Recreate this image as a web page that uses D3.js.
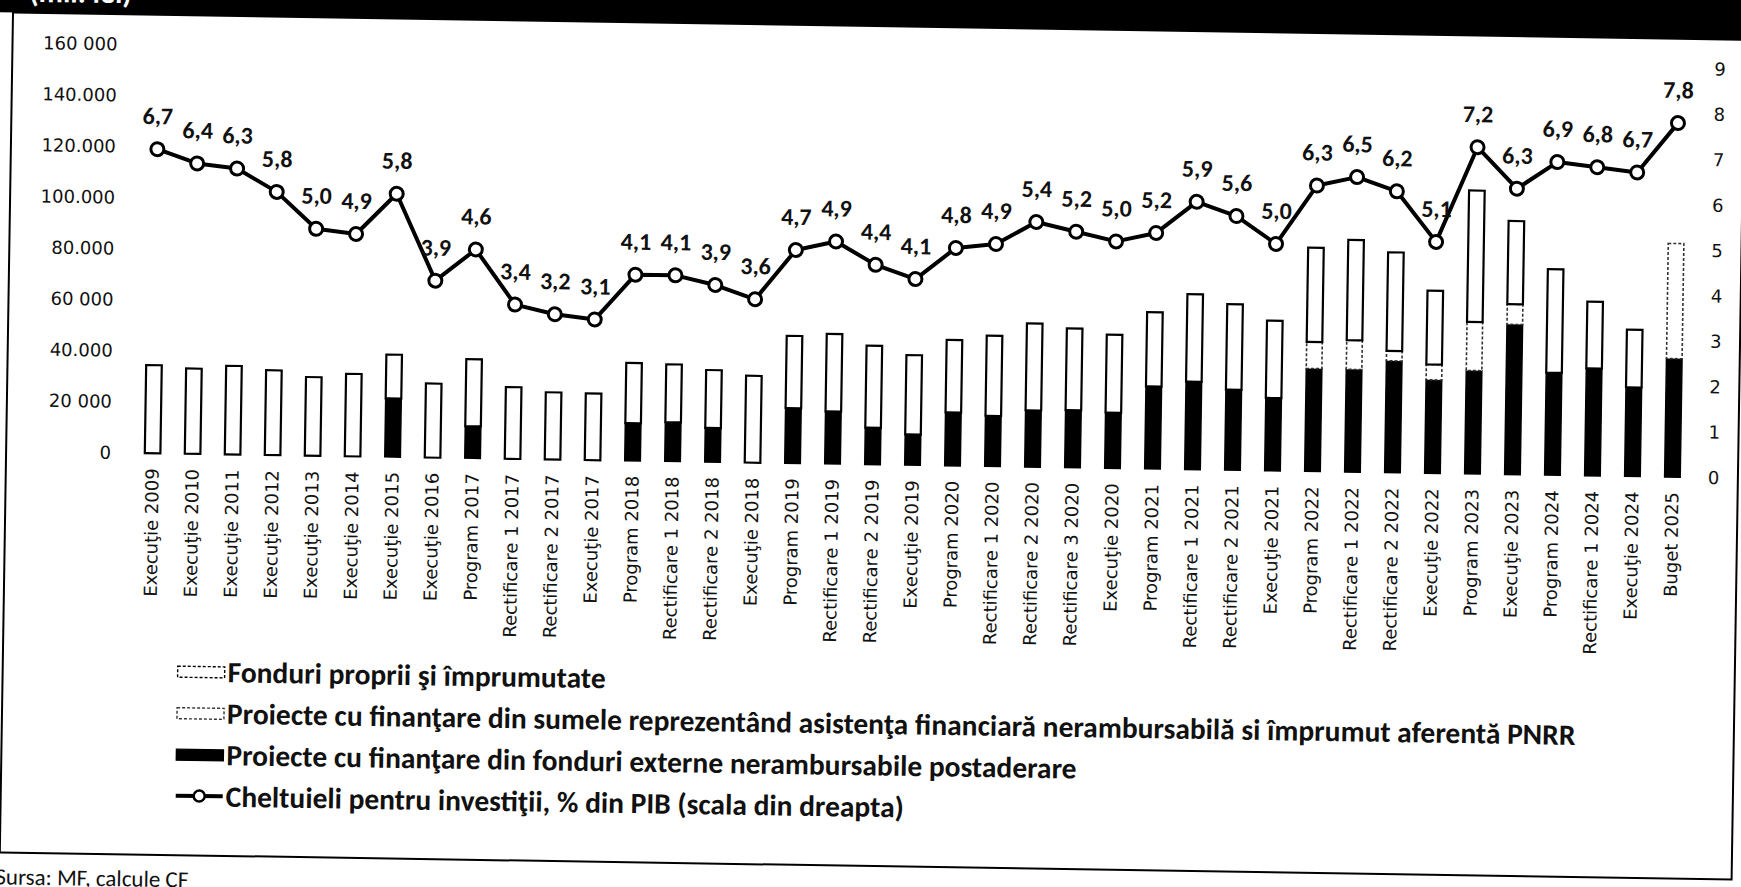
<!DOCTYPE html>
<html>
<head>
<meta charset="utf-8">
<script src="https://cdn.jsdelivr.net/npm/d3@7"></script>
<style>
  body { margin: 0; background: #fff; }
</style>
</head>
<body>
<div id="chart"></div>
<script>
// categories (budget stage + year)
var categories = [
  "Execuţie 2009", "Execuţie 2010", "Execuţie 2011", "Execuţie 2012", "Execuţie 2013",
  "Execuţie 2014", "Execuţie 2015", "Execuţie 2016",
  "Program 2017", "Rectificare 1 2017", "Rectificare 2 2017", "Execuţie 2017",
  "Program 2018", "Rectificare 1 2018", "Rectificare 2 2018", "Execuţie 2018",
  "Program 2019", "Rectificare 1 2019", "Rectificare 2 2019", "Execuţie 2019",
  "Program 2020", "Rectificare 1 2020", "Rectificare 2 2020", "Rectificare 3 2020", "Execuţie 2020",
  "Program 2021", "Rectificare 1 2021", "Rectificare 2 2021", "Execuţie 2021",
  "Program 2022", "Rectificare 1 2022", "Rectificare 2 2022", "Execuţie 2022",
  "Program 2023", "Execuţie 2023",
  "Program 2024", "Rectificare 1 2024", "Execuţie 2024",
  "Buget 2025"
];

// mil. lei
var externalFunds = [
  0, 0, 0, 0, 0, 0, 22900, 0,
  12500, 0, 0, 0,
  14700, 15300, 13300, 0,
  21600, 20500, 14400, 12000,
  20900, 19800, 22200, 22500, 21800,
  32300, 34400, 31500, 28500,
  40300, 40200, 43800, 36600,
  40500, 58800,
  40100, 42100, 34900,
  46400
];
var pnrrFunds = [
  0, 0, 0, 0, 0, 0, 0, 0,
  0, 0, 0, 0,
  0, 0, 0, 0,
  0, 0, 0, 0,
  0, 0, 0, 0, 0,
  0, 0, 0, 0,
  10400, 11400, 3900, 6000,
  19000, 7900,
  0, 0, 0,
  45100
];
var ownFunds = [
  34500, 33400, 34700, 33200, 30800, 32300, 17200, 29000,
  26300, 28100, 26300, 26100,
  23600, 22700, 22700, 34000,
  28300, 30400, 32100, 31100,
  28400, 31400, 34000, 32000, 30500,
  29100, 34300, 33500, 30300,
  36900, 39300, 38600, 28900,
  51500, 32600,
  40600, 26100, 22600,
  0
];
// % din PIB (right scale)
var investPctGdp = [
  6.7, 6.4, 6.3, 5.8, 5.0, 4.9, 5.8, 3.9,
  4.6, 3.4, 3.2, 3.1,
  4.1, 4.1, 3.9, 3.6,
  4.7, 4.9, 4.4, 4.1,
  4.8, 4.9, 5.4, 5.2, 5.0,
  5.2, 5.9, 5.6, 5.0,
  6.3, 6.5, 6.2, 5.1,
  7.2, 6.3,
  6.9, 6.8, 6.7,
  7.8
];

var leftTickValues = [0, 20000, 40000, 60000, 80000, 100000, 120000, 140000, 160000];
var leftTickLabels = ["0", "20 000", "40.000", "60 000", "80.000", "100.000", "120.000", "140.000", "160 000"];
var rightTickValues = [0, 1, 2, 3, 4, 5, 6, 7, 8, 9];

var legendLabels = [
  "Fonduri proprii şi împrumutate",
  "Proiecte cu finanţare din sumele reprezentând asistenţa financiară nerambursabilă si împrumut aferentă PNRR",
  "Proiecte cu finanţare din fonduri externe nerambursabile postaderare",
  "Cheltuieli pentru investiţii, % din PIB (scala din dreapta)"
];
var unitLabel = "(mil. lei)";
var sourceNote = "Sursa: MF, calcule CF";

// ---------------- layout ----------------
var W = 1741, H = 887;
var tilt = 0.9; // the scan is slightly rotated
var plot = {left: 132.5, right: 1692.5, top: 56, bottom: 464.5};
var axisFont = "'DejaVu Sans', Verdana, sans-serif";
var boldFont = "Carlito, 'Liberation Sans Narrow', 'Open Sans', sans-serif";

var rows = categories.map(function(c, i) {
  return {cat: c, ext: externalFunds[i], pnrr: pnrrFunds[i], own: ownFunds[i], pct: investPctGdp[i]};
});

var x = d3.scaleBand().domain(categories).range([plot.left, plot.right])
          .paddingInner(0.61).paddingOuter(0.305);
var yLeft = d3.scaleLinear().domain([0, 160000]).range([plot.bottom, plot.top]);
var yRight = d3.scaleLinear().domain([0, 9]).range([plot.bottom, plot.top]);

var svg = d3.select("#chart").append("svg").attr("width", W).attr("height", H)
            .style("display", "block").style("background", "#fff");

var g = svg.append("g").attr("transform", "rotate(" + tilt + ",870,465)");

// header band and frame
g.append("rect").attr("x", -80).attr("y", -120).attr("width", W + 160).attr("height", 146).attr("fill", "#000");
g.append("text").attr("x", 22).attr("y", 15).attr("fill", "#fff")
  .attr("font-family", boldFont).attr("font-weight", "bold").attr("font-size", 30)
  .text(unitLabel);
g.append("rect").attr("x", 6).attr("y", 26).attr("width", 1732).attr("height", 840)
  .attr("fill", "none").attr("stroke", "#000").attr("stroke-width", 2);

// stacked bars
var keys = ["ext", "pnrr", "own"];
var barStyle = {
  ext:  {fill: "#000", stroke: "#000", width: 1.5, dash: null},
  pnrr: {fill: "#fff", stroke: "#333", width: 1.6, dash: "3,2"},
  own:  {fill: "#fff", stroke: "#000", width: 2.2, dash: null}
};
var stack = d3.stack().keys(keys)(rows);

g.append("g").selectAll("g").data(stack).enter().append("g")
  .each(function(layer) {
    var st = barStyle[layer.key];
    d3.select(this).selectAll("rect").data(layer.filter(function(d) { return d[1] - d[0] > 0; }))
      .enter().append("rect")
      .attr("x", function(d) { return x(d.data.cat); })
      .attr("width", x.bandwidth())
      .attr("y", function(d) { return yLeft(d[1]); })
      .attr("height", function(d) { return yLeft(d[0]) - yLeft(d[1]); })
      .attr("fill", st.fill).attr("stroke", st.stroke)
      .attr("stroke-width", st.width)
      .attr("stroke-dasharray", st.dash);
  });

// axes
var gl = g.append("g").attr("transform", "translate(111,0)")
  .call(d3.axisLeft(yLeft).tickValues(leftTickValues)
        .tickFormat(function(d, i) { return leftTickLabels[i]; })
        .tickSize(0).tickPadding(0));
gl.select(".domain").remove();
gl.attr("font-family", axisFont).attr("font-size", 18);
gl.selectAll("text").attr("fill", "#111");

var gr = g.append("g").attr("transform", "translate(1708,0)")
  .call(d3.axisRight(yRight).tickValues(rightTickValues).tickSize(0).tickPadding(0));
gr.select(".domain").remove();
gr.attr("font-family", axisFont).attr("font-size", 18);
gr.selectAll("text").attr("fill", "#111");

var gx = g.append("g").attr("transform", "translate(0," + plot.bottom + ")")
  .call(d3.axisBottom(x).tickSize(0).tickPadding(0));
gx.select(".domain").remove();
gx.attr("font-family", axisFont).attr("font-size", 18);
gx.selectAll("text")
  .attr("transform", "rotate(-90)")
  .attr("x", -15).attr("y", 0).attr("dy", "0.35em")
  .style("text-anchor", "end").attr("fill", "#111");

// investment line (right scale)
var cx = function(d) { return x(d.cat) + x.bandwidth() / 2; };
var line = d3.line().x(cx).y(function(d) { return yRight(d.pct); });

g.append("path").datum(rows).attr("d", line)
  .attr("fill", "none").attr("stroke", "#000").attr("stroke-width", 4)
  .attr("stroke-linejoin", "round");

g.append("g").selectAll("circle").data(rows).enter().append("circle")
  .attr("cx", cx).attr("cy", function(d) { return yRight(d.pct); })
  .attr("r", 6.5).attr("fill", "#fff").attr("stroke", "#000").attr("stroke-width", 3);

var fmt = function(v) { return d3.format(".1f")(v).replace(".", ","); };
g.append("g").selectAll("text").data(rows).enter().append("text")
  .attr("x", cx).attr("y", function(d) { return yRight(d.pct) - 25; })
  .attr("text-anchor", "middle")
  .attr("font-family", boldFont).attr("font-weight", "bold").attr("font-size", 24)
  .attr("fill", "#111")
  .text(function(d) { return fmt(d.pct); });

// legend
var legend = g.append("g").attr("transform", "translate(181,682)");
var rowGap = 41.5;
legendLabels.forEach(function(lbl, i) {
  var r = legend.append("g").attr("transform", "translate(0," + (i * rowGap) + ")");
  if (i < 3) {
    var st = barStyle[["own", "pnrr", "ext"][i]];
    r.append("rect").attr("x", 0).attr("y", -5).attr("width", 47).attr("height", 11)
      .attr("fill", st.fill).attr("stroke", st.stroke).attr("stroke-width", 1.4)
      .attr("stroke-dasharray", i < 2 ? "3,2" : null);
  } else {
    r.append("line").attr("x1", 0).attr("x2", 47).attr("y1", 0).attr("y2", 0)
      .attr("stroke", "#000").attr("stroke-width", 4);
    r.append("circle").attr("cx", 23.5).attr("cy", 0).attr("r", 5.5)
      .attr("fill", "#fff").attr("stroke", "#000").attr("stroke-width", 2.5);
  }
});

var legendText = legend.append("g").attr("transform", "translate(50,0)");
legendText.selectAll("text").data(legendLabels).enter().append("text")
  .attr("x", 0).attr("y", function(d, i) { return i * rowGap; }).attr("dy", "0.35em")
  .attr("font-family", boldFont).attr("font-weight", "bold").attr("font-size", 29.5)
  .attr("fill", "#111")
  .text(function(d) { return d; });

// squeeze the legend horizontally if the substitute font runs wider than Calibri
var legendMaxWidth = 1360;
var widest = d3.max(legendText.selectAll("text").nodes(), function(n) { return n.getComputedTextLength(); });
var squeeze = widest > legendMaxWidth ? legendMaxWidth / widest : 1;
legendText.attr("transform", "translate(50,0) scale(" + squeeze + ",1)");

// source note, cut by the page edge
g.append("text").attr("x", 2).attr("y", 898)
  .attr("transform", "scale(" + squeeze + ",1)")
  .attr("font-family", boldFont).attr("font-size", 23).attr("fill", "#111")
  .text(sourceNote);
</script>
</body>
</html>
